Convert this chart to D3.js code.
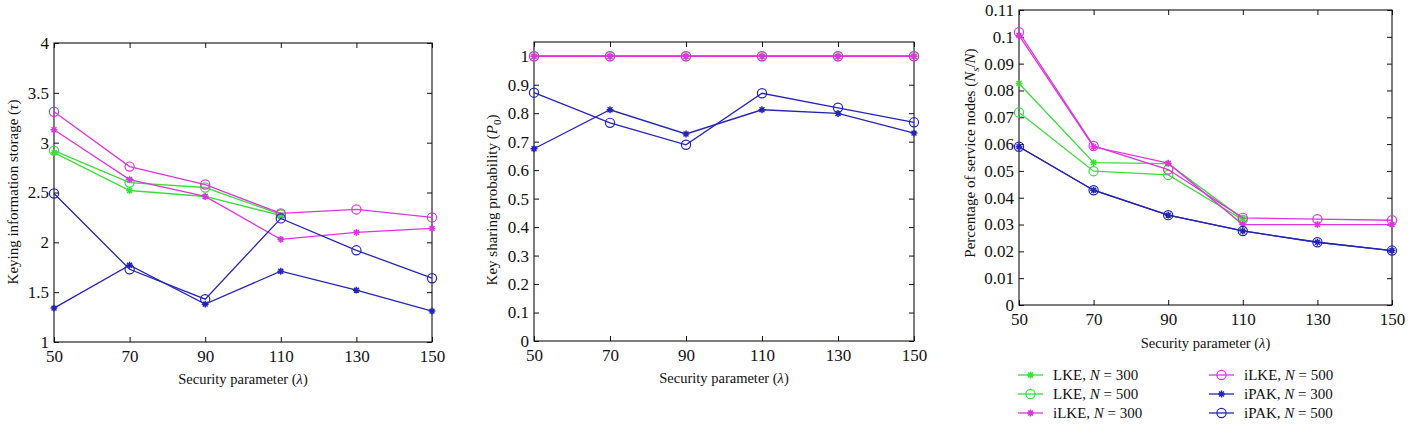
<!DOCTYPE html>
<html>
<head>
<meta charset="utf-8">
<script src="https://cdn.jsdelivr.net/npm/d3@7"></script>
<style>
	body { margin: 0; background: #fff; }
	svg text { font-family: "Liberation Serif", "DejaVu Serif", serif; fill: #111; }
</style>
</head>
<body>
<svg id="chart" width="1411" height="426"></svg>
<script>
////
var lambdas = [50, 70, 90, 110, 130, 150];
var xTicks = [50, 70, 90, 110, 130, 150];

// keying information storage (tau); LKE has no visible points past 110
var storLke300  = [2.90, 2.52, 2.46, 2.27, null, null];
var storLke500  = [2.92, 2.60, 2.55, 2.28, null, null];
var storIlke300 = [3.13, 2.63, 2.46, 2.03, 2.10, 2.14];
var storIlke500 = [3.31, 2.76, 2.58, 2.29, 2.33, 2.25];
var storIpak300 = [1.34, 1.77, 1.38, 1.71, 1.52, 1.31];
var storIpak500 = [2.49, 1.73, 1.43, 2.24, 1.92, 1.64];
var storTicks = [1, 1.5, 2, 2.5, 3, 3.5, 4];

// key sharing probability (P0)
var probLke300  = [1, 1, 1, 1, 1, 1];
var probLke500  = [1, 1, 1, 1, 1, 1];
var probIlke300 = [1, 1, 1, 1, 1, 1];
var probIlke500 = [1, 1, 1, 1, 1, 1];
var probIpak300 = [0.675, 0.812, 0.727, 0.812, 0.799, 0.730];
var probIpak500 = [0.872, 0.766, 0.689, 0.870, 0.819, 0.768];
var probTicks = [0, 0.1, 0.2, 0.3, 0.4, 0.5, 0.6, 0.7, 0.8, 0.9, 1];

// percentage of service nodes (Ns/N)
var servLke300  = [0.0826, 0.0531, 0.0527, 0.0322, null, null];
var servLke500  = [0.0718, 0.0499, 0.0485, 0.0318, null, null];
var servIlke300 = [0.1005, 0.0590, 0.0529, 0.0300, 0.0300, 0.0300];
var servIlke500 = [0.1017, 0.0593, 0.0505, 0.0325, 0.0320, 0.0316];
var servIpak300 = [0.0590, 0.0428, 0.0335, 0.0276, 0.0234, 0.0203];
var servIpak500 = [0.0590, 0.0428, 0.0335, 0.0276, 0.0234, 0.0203];
var servTicks = [0, 0.01, 0.02, 0.03, 0.04, 0.05, 0.06, 0.07, 0.08, 0.09, 0.1, 0.11];

var seriesNames = ["LKE", "LKE", "iLKE", "iLKE", "iPAK", "iPAK"];
var seriesN = ["300", "500", "300", "500", "300", "500"];
////
var Colors = {
	green: "#3ade3a",
	magenta: "#dd35dd",
	blue: "#2424b8"
};
var seriesStyle = [
	{color: Colors.green, marker: "star"},
	{color: Colors.green, marker: "circle"},
	{color: Colors.magenta, marker: "star"},
	{color: Colors.magenta, marker: "circle"},
	{color: Colors.blue, marker: "star"},
	{color: Colors.blue, marker: "circle"}
];

var svg = d3.select("#chart");

function starPath(r){
	var d = r * 0.72;
	return "M" + (-r) + ",0H" + r + "M0," + (-r) + "V" + r +
		"M" + (-d) + "," + (-d) + "L" + d + "," + d +
		"M" + (-d) + "," + d + "L" + d + "," + (-d);
}

function drawMarker(g, style, x, y){
	if (style.marker == "circle") {
		g.append("circle").attr("cx", x).attr("cy", y).attr("r", 4.6)
			.attr("fill", "none").attr("stroke", style.color).attr("stroke-width", 1.2);
	} else {
		g.append("path").attr("d", starPath(3.4))
			.attr("transform", "translate(" + x + "," + y + ")")
			.attr("fill", "none").attr("stroke", style.color).attr("stroke-width", 1.5);
	}
}

function fmt(v){
	return String(+v.toFixed(3));
}

function drawPanel(cfg){
	var x = d3.scaleLinear().domain([50, 150]).range([cfg.left, cfg.right]);
	var y = d3.scaleLinear().domain(cfg.yDomain).range([cfg.bottom, cfg.top]);
	var g = svg.append("g");

	// box
	g.append("rect")
		.attr("x", cfg.left).attr("y", cfg.top)
		.attr("width", cfg.right - cfg.left).attr("height", cfg.bottom - cfg.top)
		.attr("fill", "none").attr("stroke", "#111").attr("stroke-width", 1.1);

	g.append("g").attr("transform", "translate(0," + cfg.bottom + ")")
		.call(d3.axisBottom(x).tickValues(xTicks).tickFormat(fmt).tickSize(-5).tickPadding(8));
	g.append("g").attr("transform", "translate(0," + cfg.top + ")")
		.call(d3.axisTop(x).tickValues(xTicks).tickFormat("").tickSize(-5));
	g.append("g").attr("transform", "translate(" + cfg.left + ",0)")
		.call(d3.axisLeft(y).tickValues(cfg.yTicks).tickFormat(fmt).tickSize(-5).tickPadding(5));
	g.append("g").attr("transform", "translate(" + cfg.right + ",0)")
		.call(d3.axisRight(y).tickValues(cfg.yTicks).tickFormat("").tickSize(-5));

	g.selectAll(".domain").remove();
	g.selectAll(".tick line").attr("stroke", "#111");
	g.selectAll(".tick text").attr("font-family", "Liberation Serif").attr("font-size", 17).attr("fill", "#111");

	var line = d3.line()
		.defined(function(d){ return d[1] != null; })
		.x(function(d){ return x(d[0]); })
		.y(function(d){ return y(d[1]); });

	for (var i = 0; i < cfg.series.length; ++i) {
		var pts = lambdas.map(function(l, j){ return [l, cfg.series[i][j]]; });
		g.append("path").datum(pts).attr("d", line)
			.attr("fill", "none").attr("stroke", seriesStyle[i].color).attr("stroke-width", 1.3);
		for (var j = 0; j < pts.length; ++j) {
			if (pts[j][1] == null) continue;
			drawMarker(g, seriesStyle[i], x(pts[j][0]), y(pts[j][1]));
		}
	}

	// x label
	var xl = g.append("text")
		.attr("x", (cfg.left + cfg.right) / 2).attr("y", cfg.xLabelY)
		.attr("text-anchor", "middle").attr("font-size", 14.5);
	xl.append("tspan").text("Security parameter (");
	xl.append("tspan").attr("font-style", "italic").text("λ");
	xl.append("tspan").text(")");

	// y label
	var yl = g.append("text")
		.attr("transform", "translate(" + cfg.yLabelX + "," + cfg.yLabelY + ") rotate(-90)")
		.attr("text-anchor", "middle").attr("font-size", 15);
	cfg.yLabel(yl);
}

drawPanel({
	left: 54, right: 432, top: 43, bottom: 342,
	yDomain: [1, 4], yTicks: storTicks,
	series: [storLke300, storLke500, storIlke300, storIlke500, storIpak300, storIpak500],
	xLabelY: 384, yLabelX: 18, yLabelY: 192,
	yLabel: function(t){
		t.append("tspan").text("Keying information storage (");
		t.append("tspan").attr("font-style", "italic").text("τ");
		t.append("tspan").text(")");
	}
});

drawPanel({
	left: 534, right: 914, top: 42, bottom: 341,
	yDomain: [0, 1.05], yTicks: probTicks,
	series: [probLke300, probLke500, probIlke300, probIlke500, probIpak300, probIpak500],
	xLabelY: 383, yLabelX: 497, yLabelY: 200,
	yLabel: function(t){
		t.append("tspan").text("Key sharing probability (");
		t.append("tspan").attr("font-style", "italic").text("P");
		t.append("tspan").attr("font-size", 11).attr("dy", 4).text("0");
		t.append("tspan").attr("dy", -4).text(")");
	}
});

drawPanel({
	left: 1019, right: 1392, top: 10, bottom: 305,
	yDomain: [0, 0.11], yTicks: servTicks,
	series: [servLke300, servLke500, servIlke300, servIlke500, servIpak300, servIpak500],
	xLabelY: 348, yLabelX: 975, yLabelY: 153,
	yLabel: function(t){
		t.append("tspan").text("Percentage of service nodes (");
		t.append("tspan").attr("font-style", "italic").text("N");
		t.append("tspan").attr("font-style", "italic").attr("font-size", 11).attr("dy", 4).text("s");
		t.append("tspan").attr("dy", -4).text("/");
		t.append("tspan").attr("font-style", "italic").text("N");
		t.append("tspan").text(")");
	}
});

// legend
var legend = svg.append("g");
var legCols = [1018, 1209];
var legRows = [375, 394, 413];
for (var k = 0; k < 6; ++k) {
	var cx = legCols[Math.floor(k / 3)];
	var cy = legRows[k % 3];
	legend.append("line").attr("x1", cx).attr("x2", cx + 25).attr("y1", cy).attr("y2", cy)
		.attr("stroke", seriesStyle[k].color).attr("stroke-width", 1.3);
	drawMarker(legend, seriesStyle[k], cx + 12.5, cy);
	var lt = legend.append("text").attr("x", cx + 35).attr("y", cy + 5).attr("font-size", 15);
	lt.append("tspan").text(seriesNames[k] + ", ");
	lt.append("tspan").attr("font-style", "italic").text("N");
	lt.append("tspan").text(" = " + seriesN[k]);
}
console.log("drawn");
</script>
</body>
</html>
